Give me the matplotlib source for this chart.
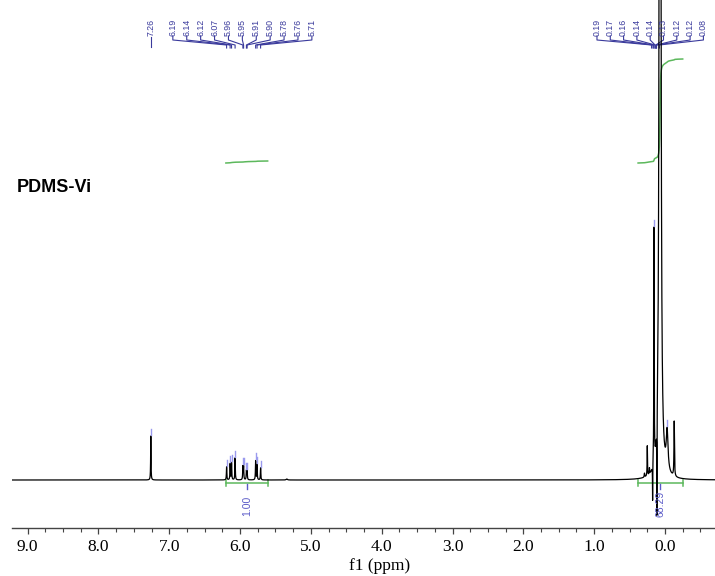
import numpy as np
import matplotlib
matplotlib.use("Agg")
import matplotlib.pyplot as plt
from matplotlib.ticker import MultipleLocator, FormatStrFormatter

# ---- peak list (ppm, height in px above baseline, half width in ppm) ----
peak_ppm = [7.26,
            6.19, 6.14, 6.12, 6.07, 5.96, 5.95, 5.91, 5.90, 5.78, 5.76, 5.71,
            5.34,
            0.29, 0.25, 0.22, 0.175, 0.155, 0.115, 0.07, -0.03, -0.13]
peak_height = [44,
               13, 16, 17, 22, 13, 13, 9, 9, 19, 15, 12,
               1.0,
               4, 30, 6, -37, 236, -98, 5000, 40, 55]
peak_hw = [0.003,
           0.0035, 0.0035, 0.0035, 0.0035, 0.0035, 0.0035, 0.0035, 0.0035, 0.0035, 0.0035, 0.0035,
           0.01,
           0.004, 0.003, 0.003, 0.002, 0.003, 0.002, 0.005, 0.015, 0.004]

# picked-peak labels
label_cdcl3 = [7.26]
label_vinyl = [6.19, 6.14, 6.12, 6.07, 5.96, 5.95, 5.91, 5.90, 5.78, 5.76, 5.71]
label_sime = [0.19, 0.17, 0.16, 0.14, 0.14, 0.13, 0.12, 0.12, 0.08]

# integrals: (from ppm, to ppm), value, curve start/end level
integral_ranges = [(6.20, 5.61), (0.38, -0.25)]
integral_values = [1.00, 68.29]
integral_levels = [(317, 319), (317, 421)]

sample_name = "PDMS-Vi"

LABEL_BLUE = "#3a3a9c"
INT_BLUE = "#5a5ac8"
GREEN = "#5cb85c"

# ---- build the trace from the peak list ----
ppm = np.linspace(9.25, -0.75, 40001)
spec = np.zeros_like(ppm)
for c, h, w in zip(peak_ppm, peak_height, peak_hw):
    spec += h * w**2 / ((ppm - c) ** 2 + w**2)

fig = plt.figure(figsize=(7.15, 5.76), dpi=100)
ax = fig.add_axes([12 / 715, 1 - 528 / 576, 703 / 715, 528 / 576])
ax.set_xlim(9.22, -0.706)
ax.set_ylim(-48, 480)

ax.plot(ppm, spec, color="black", lw=0.9, zorder=3)

# small light-blue marks on top of picked peaks
for p in label_cdcl3 + label_vinyl + [0.155, -0.03]:
    top = np.interp(-p, -ppm, spec)
    ax.plot([p, p], [top + 1, top + 7], color="#9a9aee", lw=1, zorder=4)

# ---- peak labels with brackets ----
px_per_ppm = 70.8


def label_group(values, first_x_ppm, spacing_px):
    for i, v in enumerate(values):
        lx = first_x_ppm - i * spacing_px / px_per_ppm
        ax.text(lx, 444, f"{v:.2f}", rotation=90, ha="center", va="bottom",
                fontsize=6.3, family="Liberation Sans", color=LABEL_BLUE, clip_on=False)
        ax.plot([lx, lx, v, v], [444, 440, 435, 432], color=LABEL_BLUE, lw=0.8,
                clip_on=False)


ax.text(label_cdcl3[0], 444, f"{label_cdcl3[0]:.2f}", rotation=90, ha="center",
        va="bottom", fontsize=6.3, family="Liberation Sans", color=LABEL_BLUE)
ax.plot([label_cdcl3[0]] * 2, [443, 433], color=LABEL_BLUE, lw=0.8)
label_group(label_vinyl, (665 - 173) / px_per_ppm, 13.9)
label_group(label_sime, (665 - 597) / px_per_ppm, 13.3)

# ---- integrals ----
for (a, b), val, (y0, y1) in zip(integral_ranges, integral_values, integral_levels):
    m = (ppm <= a) & (ppm >= b)
    cum = np.cumsum(spec[m])
    cum = (cum - cum[0]) / (cum[-1] - cum[0])
    ax.plot(ppm[m], y0 + (y1 - y0) * cum, color=GREEN, lw=1.1, zorder=2)
    # baseline bracket
    ax.plot([a, b], [-3, -3], color=GREEN, lw=1.1)
    ax.plot([a, a], [-6, 0], color=GREEN, lw=1.1)
    ax.plot([b, b], [-6, 0], color=GREEN, lw=1.1)
    mid = (a + b) / 2
    ax.plot([mid, mid], [-4, -9], color=INT_BLUE, lw=1)
    ax.text(mid, -11 if val > 10 else -16, f"{val:.2f}", rotation=90, ha="center",
            va="top", fontsize=7.5, family="Liberation Sans", color=INT_BLUE)

# ---- axis styling ----
for s in ["left", "right", "top"]:
    ax.spines[s].set_visible(False)
ax.spines["bottom"].set_color("#444444")
ax.spines["bottom"].set_linewidth(1.0)
ax.set_yticks([])
ax.xaxis.set_major_locator(MultipleLocator(1.0))
ax.xaxis.set_minor_locator(MultipleLocator(0.25))
ax.xaxis.set_major_formatter(FormatStrFormatter("%.1f"))
ax.tick_params(axis="x", which="major", direction="out", length=4, width=0.9,
               color="#444444", pad=4, labelsize=12.5)
ax.tick_params(axis="x", which="minor", direction="out", length=3, width=0.8,
               color="#444444")
for t in ax.get_xticklabels():
    t.set_family("Liberation Serif")
ax.set_xlabel("f1 (ppm)", family="Liberation Serif", fontsize=12.5)
ax.xaxis.set_label_coords((380 - 12) / 703, -0.057)
ax.patch.set_alpha(0)

fig.text(17 / 715, 1 - 192 / 576, sample_name, fontsize=13, fontweight="bold",
         family="Liberation Sans", ha="left", va="baseline")

fig.savefig("out.png", dpi=100)
